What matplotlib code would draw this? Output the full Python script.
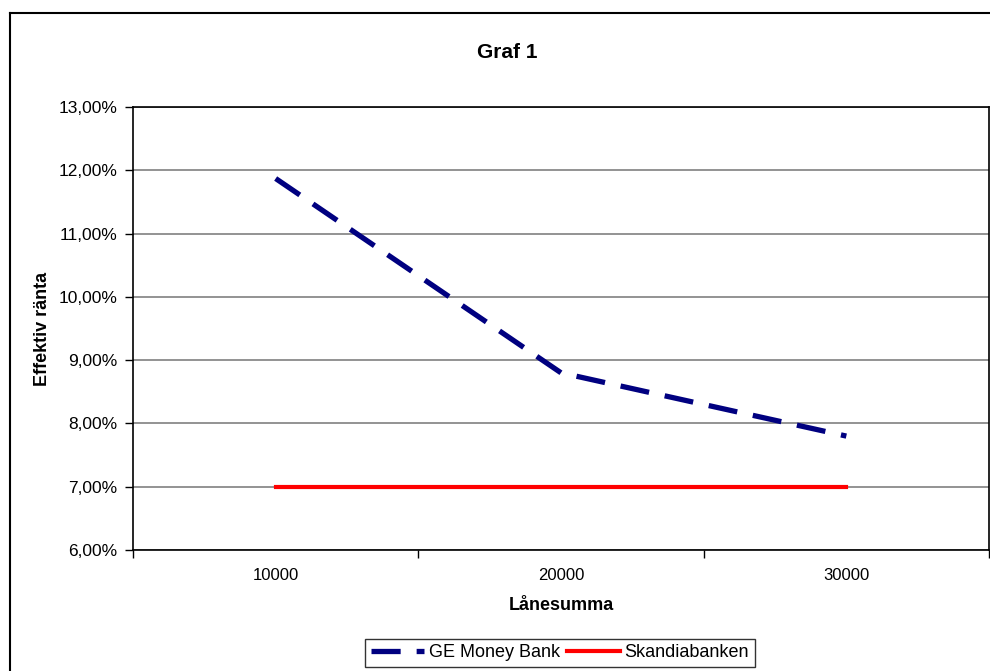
import matplotlib.pyplot as plt
from matplotlib.lines import Line2D
from matplotlib.ticker import FixedLocator

plt.rcParams['font.family'] = ['Liberation Sans', 'DejaVu Sans']
plt.rcParams['lines.scale_dashes'] = False

# data
loan_amounts = ['10000', '20000', '30000']
ge_money = [11.87, 8.80, 7.80]
skandia = [7.00, 7.00, 7.00]
yticks = [6, 7, 8, 9, 10, 11, 12, 13]

W, H = 990, 671
fig = plt.figure(figsize=(W / 100, H / 100), dpi=100)

# chart area border (right and bottom run past the image)
fig.add_artist(Line2D([10 / W, 10 / W], [0, 1 - 13 / H], color='black', lw=1.5))
fig.add_artist(Line2D([10 / W, 1], [1 - 13 / H, 1 - 13 / H], color='black', lw=1.5))

ax = fig.add_axes([133 / W, 1 - 550 / H, (989 - 133) / W, (550 - 107) / H])
x = list(range(len(loan_amounts)))

ax.plot(x, ge_money, color='#000080', lw=3.8, dashes=(21, 11.5),
        dash_capstyle='butt', label='GE Money Bank')
ax.plot(x, skandia, color='#ff0000', lw=3.0, label='Skandiabanken')

ax.set_xlim(-0.5, len(loan_amounts) - 0.5)
ax.set_ylim(6, 13)
ax.set_yticks(yticks)
ax.set_yticklabels([f'{v:.2f}'.replace('.', ',') + '%' for v in yticks])
ax.yaxis.grid(True, color='#808080', lw=1.2)
ax.set_axisbelow(True)

ax.set_xticks(x)
ax.set_xticklabels(loan_amounts)
ax.xaxis.set_minor_locator(FixedLocator([i + 0.5 for i in range(-1, len(x))]))
ax.tick_params(axis='x', which='major', length=0, pad=13, labelsize=12)
ax.tick_params(axis='x', which='minor', length=6, width=1, direction='out')
ax.tick_params(axis='y', length=6, width=1, direction='out', labelsize=12.5, pad=5)

for s in ax.spines.values():
    s.set_color('black')
    s.set_linewidth(1.2)

ax.set_xlabel('Lånesumma', fontsize=13, fontweight='bold', labelpad=10)
ax.set_ylabel('Effektiv ränta', fontsize=13, fontweight='bold', labelpad=6)

fig.text(507 / W, 1 - 52 / H, 'Graf 1', fontsize=15, fontweight='bold',
         ha='center', va='center')

leg = fig.legend(loc='upper center', bbox_to_anchor=(560 / W, 1 - 639 / H),
                 ncol=2, fontsize=13, frameon=True, fancybox=False,
                 handlelength=2.95, handletextpad=0.25, columnspacing=0.4,
                 borderpad=0.3, borderaxespad=0)
leg.get_frame().set_edgecolor('black')
leg.get_frame().set_linewidth(1.0)

fig.savefig('out.png', dpi=100)
